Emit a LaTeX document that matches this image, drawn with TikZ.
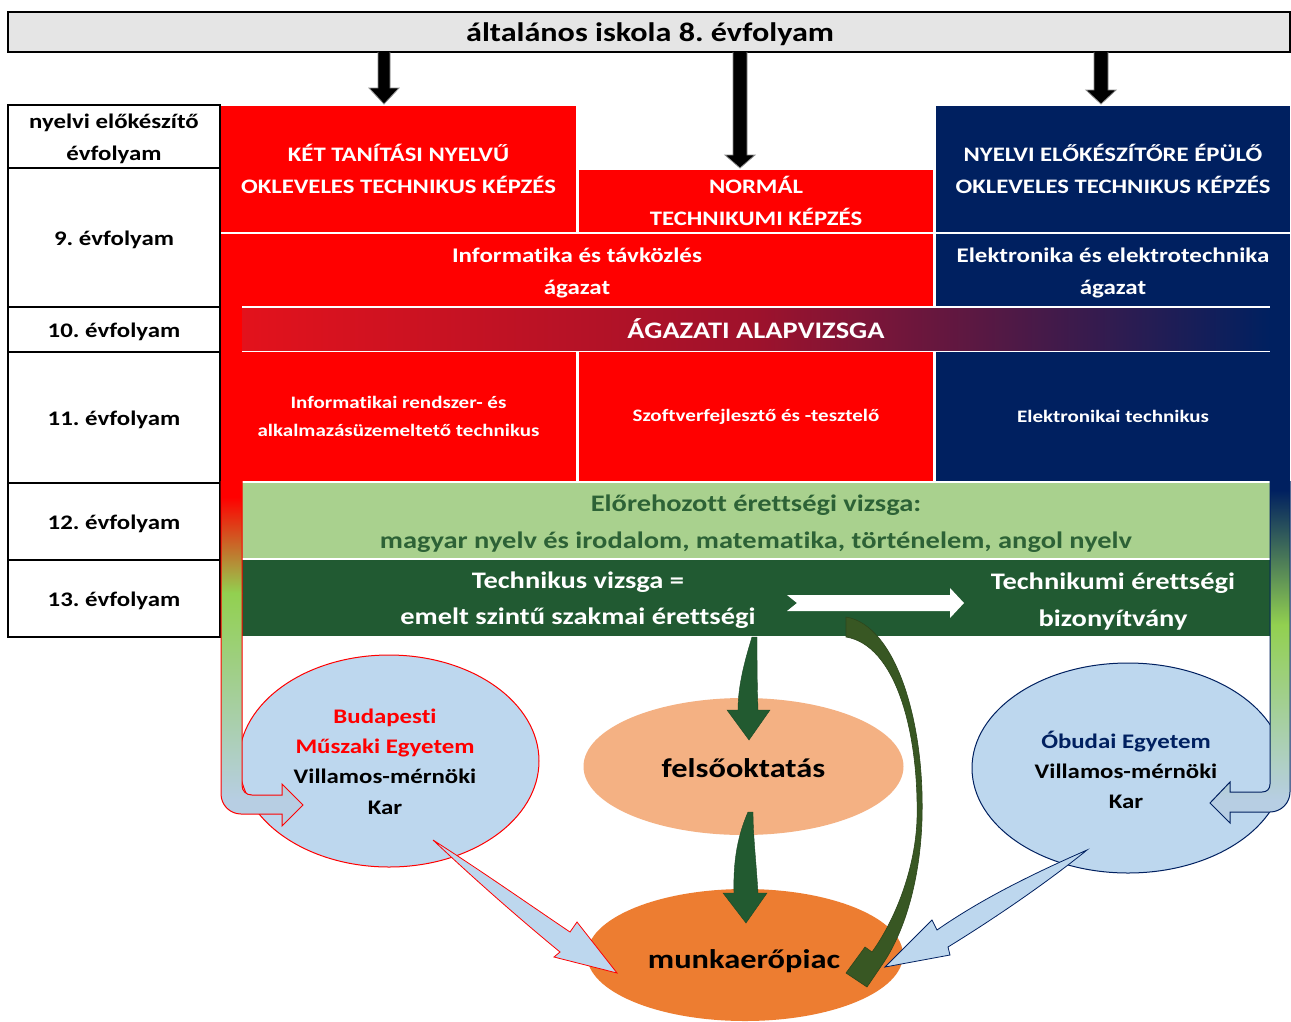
\documentclass[tikz,border=0pt]{standalone}
\usepackage{fontspec}
\setmainfont{Carlito}[FakeStretch=1.2, Ligatures=NoCommon]
\usetikzlibrary{shapes.geometric}
\definecolor{navy}{HTML}{002060}
\definecolor{pure}{HTML}{FF0000}
\definecolor{lgreen}{HTML}{A9D18E}
\definecolor{dgreen}{HTML}{215A32}
\definecolor{tgreen}{HTML}{2D6236}
\definecolor{lblue}{HTML}{BDD7EE}
\definecolor{peach}{HTML}{F4B183}
\definecolor{myorange}{HTML}{ED7D31}
\definecolor{olive}{HTML}{385723}
\definecolor{agreen}{HTML}{92D050}
\definecolor{barg}{HTML}{E5E5E5}
\definecolor{gstart}{HTML}{E3121C}
\definecolor{gmid}{HTML}{9E122C}
\definecolor{arrgreen}{HTML}{225A30}
\newcommand\fsz[2]{\bfseries\fontsize{#1}{#2}\selectfont\frenchspacing}
\begin{document}
\begin{tikzpicture}[x=1pt,y=-1pt,
  txt/.style={align=center, inner sep=0pt, text=white},
  blk/.style={align=center, inner sep=0pt, text=white, outer sep=0pt},
  downarrow/.style={fill=black, draw=black!45, line width=0.8pt},
  ell/.style={ellipse, inner sep=0pt},
  greenarrow/.style={fill=arrgreen, draw=arrgreen!80!black, line width=0.4pt},
  bluearrow/.style={fill=lblue, line width=0.8pt}
]
\useasboundingbox (0,0) rectangle (1291,1021);
\fill[white] (0,0) rectangle (1291,1021);

% top bar
\node[draw=black, line width=1.8pt, fill=barg, minimum width=1282pt, minimum height=40pt, inner sep=0pt] (top) at (649,32) {};
\node[inner sep=0pt, font=\fsz{26.8}{30}] (topt) at (650,34) {általános iskola 8. évfolyam};

% down arrows
\draw[downarrow] (378,52) -- (378,88) -- (369,88) -- (384,104) -- (399,88) -- (390,88) -- (390,52);
\draw[downarrow] (733,52) -- (733,155) -- (725,155) -- (740,168) -- (755,155) -- (747,155) -- (747,52);
\draw[downarrow] (1094,52) -- (1094,90) -- (1086,90) -- (1101,104) -- (1116,90) -- (1108,90) -- (1108,52);

% upper blocks
\node[blk, fill=pure, minimum width=355pt, minimum height=126pt, font=\fsz{20.6}{32}] (ket) at (398.5,169) {KÉT TANÍTÁSI NYELVŰ\\OKLEVELES TECHNIKUS KÉPZÉS};
\node[blk, fill=pure, minimum width=354pt, minimum height=62pt, font=\fsz{20.6}{32}] (normal) at (756,201) {NORMÁL\\TECHNIKUMI KÉPZÉS};
\node[blk, fill=navy, minimum width=354pt, minimum height=126pt, font=\fsz{20.6}{32}] (nyelvi) at (1113,169) {NYELVI ELŐKÉSZÍTŐRE ÉPÜLŐ\\OKLEVELES TECHNIKUS KÉPZÉS};
\fill[pure] (221,234) rectangle (933,306);
\fill[navy] (936,234) rectangle (1290,306);
\node[txt, font=\fsz{20.8}{32}] (info) at (577,273) {Informatika és távközlés\\ágazat};
\node[txt, font=\fsz{20.8}{32}] (elek) at (1113,273) {Elektronika és elektrotechnika\\ágazat};
\fill[pure] (221,305) rectangle (242,353);
\fill[navy] (1270,305) rectangle (1290,353);
\node[blk, left color=gstart, right color=navy, middle color=gmid, minimum width=1028pt, minimum height=42pt, font=\fsz{23.7}{28}] (alap) at (756,329) {ÁGAZATI ALAPVIZSGA};
\node[blk, fill=pure, minimum width=355pt, minimum height=129pt, font=\fsz{17.5}{28}] (irsz) at (398.5,416.5) {Informatikai rendszer- és\\alkalmazásüzemeltető technikus};
\node[blk, fill=pure, minimum width=354pt, minimum height=129pt, font=\fsz{17.5}{28}] (szoft) at (756,416.5) {Szoftverfejlesztő és -tesztelő};
\node[blk, fill=navy, minimum width=354pt, minimum height=129pt, font=\fsz{17.5}{28}] (eltech) at (1113,416.5) {Elektronikai technikus};
\fill[lgreen] (242,483) rectangle (1270,558);
\node[txt, text=tgreen, font=\fsz{23.7}{37}] (elore) at (756,523.5) {Előrehozott érettségi vizsga:\\magyar nyelv és irodalom, matematika, történelem, angol nyelv};
\fill[dgreen] (242,560) rectangle (1270,636);
\node[txt, font=\fsz{23.7}{36}] (tv) at (578,600) {Technikus vizsga =\\emelt szintű szakmai érettségi};
\node[txt, font=\fsz{23.7}{37}] (te) at (1113,601.5) {Technikumi érettségi\\bizonyítvány};
\fill[white] (787,595) -- (950,595) -- (950,588) -- (964,603) -- (950,618) -- (950,611) -- (787,611) -- (797,603) -- cycle;

% left table
\draw[black, line width=1.8pt] (8,105) rectangle (220,168) (8,168) rectangle (220,307) (8,307) rectangle (220,352) (8,352) rectangle (220,483) (8,483) rectangle (220,560) (8,560) rectangle (220,637);
\node[txt, text=black, font=\fsz{20.7}{32}] (r0) at (114,139) {nyelvi előkészítő\\évfolyam};
\node[txt, text=black, font=\fsz{20.7}{32}] (r9) at (114,239.5) {9. évfolyam};
\node[txt, text=black, font=\fsz{20.7}{32}] (r10) at (114,331.5) {10. évfolyam};
\node[txt, text=black, font=\fsz{20.7}{32}] (r11) at (114,419.5) {11. évfolyam};
\node[txt, text=black, font=\fsz{20.7}{32}] (r12) at (114,523.5) {12. évfolyam};
\node[txt, text=black, font=\fsz{20.7}{32}] (r13) at (114,600.5) {13. évfolyam};

% ellipses
\node[ell, fill=lblue, draw=pure, line width=1pt, minimum width=300pt, minimum height=212pt] (bme) at (389,761) {};
\node[ell, fill=peach, minimum width=320pt, minimum height=137pt] (felso) at (743.5,766.5) {};
\node[ell, fill=myorange, minimum width=316pt, minimum height=132pt] (munka) at (745,955) {};
\node[ell, fill=lblue, draw=navy, line width=1pt, minimum width=312pt, minimum height=210pt] (obuda) at (1128,768) {};

% left bent arrow
\begin{scope}
\clip (221,481) -- (221,794) .. controls (221,805) and (230,814) .. (241,814) -- (282,814) -- (282,826) -- (303,805) -- (282,784) -- (282,795) -- (252,795) .. controls (246,795) and (242,791) .. (242,785) -- (242,481) -- cycle;
\fill[pure] (210,470) rectangle (310,497);
\shade[top color=pure, bottom color=agreen] (210,497) rectangle (310,593);
\shade[top color=agreen, bottom color=lblue!90!gray] (210,593) rectangle (310,800);
\fill[lblue!90!gray] (210,800) rectangle (310,830);
\end{scope}
\draw[pure, line width=1pt] (221,481) -- (221,794) .. controls (221,805) and (230,814) .. (241,814) -- (282,814) -- (282,826) -- (303,805) -- (282,784) -- (282,795) -- (252,795) .. controls (246,795) and (242,791) .. (242,785) -- (242,481);

% right bent arrow
\begin{scope}
\clip (1290,481) -- (1290,792) .. controls (1290,803) and (1281,812) .. (1270,812) -- (1230,812) -- (1230,823) -- (1210,803) -- (1230,782) -- (1230,792) -- (1262,792) .. controls (1267,792) and (1270,789) .. (1270,784) -- (1270,481) -- cycle;
\fill[navy] (1200,470) rectangle (1300,490);
\shade[top color=navy, bottom color=agreen] (1200,490) rectangle (1300,625);
\shade[top color=agreen, bottom color=lblue!90!gray] (1200,625) rectangle (1300,800);
\fill[lblue!90!gray] (1200,800) rectangle (1300,830);
\end{scope}
\draw[navy, line width=1pt] (1290,481) -- (1290,792) .. controls (1290,803) and (1281,812) .. (1270,812) -- (1230,812) -- (1230,823) -- (1210,803) -- (1230,782) -- (1230,792) -- (1262,792) .. controls (1267,792) and (1270,789) .. (1270,784) -- (1270,481);

% ellipse texts
\node[align=center, inner sep=0pt, font=\fsz{20.7}{30.3}] (bmet) at (385,761.5) {\textcolor{pure}{Budapesti}\\\textcolor{pure}{Műszaki Egyetem}\\Villamos-mérnöki\\Kar};
\node[inner sep=0pt, font=\fsz{27}{30}] (felsot) at (743.5,768) {felsőoktatás};
\node[inner sep=0pt, font=\fsz{27}{30}] (munkat) at (744,961) {munkaerőpiac};
\node[align=center, inner sep=0pt, font=\fsz{20.7}{30}] (obudat) at (1126,769.5) {\textcolor{navy}{Óbudai Egyetem}\\Villamos-mérnöki\\Kar};

% green curved arrows
\draw[greenarrow] (752,637) .. controls (745,660) and (738,685) .. (738,710) -- (727,710) -- (749,740) -- (770,710) -- (758,710) .. controls (757,680) and (757,660) .. (757,637) -- cycle;
\draw[greenarrow] (748,812) .. controls (738,835) and (733,860) .. (734,893) -- (723,893) -- (746,923) -- (767,893) -- (758,893) .. controls (756,860) and (753,835) .. (753,812) -- cycle;
\draw[fill=olive, draw=olive!80!black, line width=0.6pt] (846,617) .. controls (895,625) and (925,720) .. (922,820) .. controls (920,880) and (905,930) .. (884,962) -- (867,987) -- (846,973) -- (865,947) -- (872,952) .. controls (895,920) and (915,870) .. (917,820) .. controls (919,730) and (895,645) .. (846,637) -- cycle;

% blue thin arrows
\draw[bluearrow, draw=pure] (433,840) .. controls (480,870) and (530,905) .. (570,932) -- (577,922) -- (617,973) -- (554,957) -- (560,952) .. controls (515,915) and (470,875) .. (433,840) -- cycle;
\draw[bluearrow, draw=navy] (1087,850) .. controls (1030,875) and (980,900) .. (937,930) -- (932,920) -- (885,967) -- (950,955) -- (948,947) .. controls (1000,915) and (1050,880) .. (1087,850) -- cycle;
\end{tikzpicture}
\end{document}
